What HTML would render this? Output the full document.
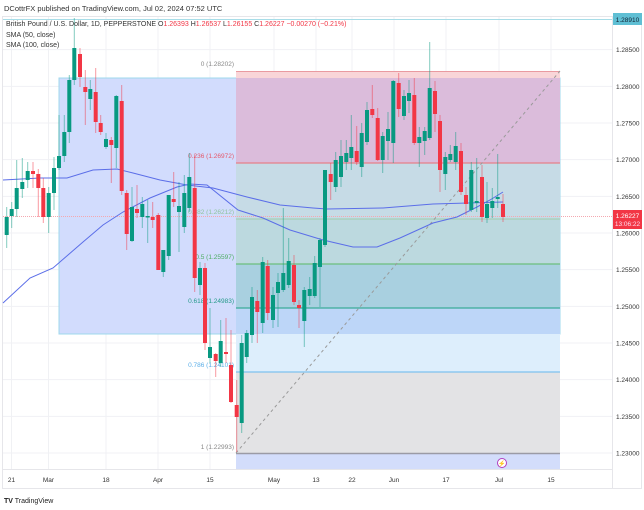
<!DOCTYPE html>
<html><head><meta charset="utf-8"><style>
html,body{margin:0;padding:0;background:#fff;width:644px;height:510px;overflow:hidden}
svg{display:block;font-family:"Liberation Sans",sans-serif}
</style></head><body>
<svg id="s" width="644" height="510" viewBox="0 0 644 510">
<rect width="644" height="510" fill="#fff"/>
<text x="4" y="11" font-size="7.5" fill="#333">DCottrFX published on TradingView.com, Jul 02, 2024 07:52 UTC</text>
<rect x="2.5" y="16.5" width="639" height="472" fill="none" stroke="#e6e6ea"/>
<g id="grid" stroke="#f0f1f4" stroke-width="1"></g>
<!-- big blue rect -->
<rect x="59" y="78" width="501" height="256" fill="#d2dcfd"/>
<rect x="59" y="78" width="501" height="256" fill="none" stroke="#9fd8ec" stroke-width="1"/>
<!-- fib zones -->
<rect x="236" y="71" width="324" height="7" fill="#f9d5d8"/>
<rect x="236" y="78" width="324" height="85" fill="#dbbcdb"/>
<rect x="236" y="163" width="324" height="56" fill="#c6dbe6"/>
<rect x="236" y="219" width="324" height="45" fill="#bcd9df"/>
<rect x="236" y="264" width="324" height="44" fill="#a9d0e0"/>
<rect x="236" y="308" width="324" height="26" fill="#bdd6f8"/>
<rect x="236" y="334" width="324" height="38" fill="#ddeefc"/>
<rect x="236" y="372" width="324" height="81" fill="#e3e3e5"/>
<rect x="236" y="453" width="324" height="16" fill="#d3ddfb"/>
<line x1="236" y1="71.5" x2="560" y2="71.5" stroke="#e99aa0"/>
<line x1="236" y1="163" x2="560" y2="163" stroke="#e57f8a" stroke-width="1.3"/>
<line x1="236" y1="219" x2="560" y2="219" stroke="#a5cfb8" stroke-width="1.3"/>
<line x1="236" y1="264" x2="560" y2="264" stroke="#6cbf7e" stroke-width="1.3"/>
<line x1="236" y1="308" x2="560" y2="308" stroke="#3bab98" stroke-width="1.3"/>
<line x1="236" y1="372" x2="560" y2="372" stroke="#7ec1ee" stroke-width="1.3"/>
<line x1="236" y1="453.5" x2="560" y2="453.5" stroke="#9b9ba5" stroke-width="1.5"/>
<line x1="236" y1="453" x2="560" y2="71" stroke="#9a9a9a" stroke-dasharray="3,3"/>
<line x1="3" y1="19.5" x2="612" y2="19.5" stroke="#a7dde8"/>
<line x1="3" y1="216.5" x2="612" y2="216.5" stroke="#f4a8b0" stroke-dasharray="1,1"/>
<g font-size="6.5" text-anchor="end">
<text x="234" y="66" fill="#888">0 (1.28202)</text>
<text x="234" y="158" fill="#e5586a">0.236 (1.26972)</text>
<text x="234" y="214" fill="#8fc49f">0.382 (1.26212)</text>
<text x="234" y="259" fill="#4ead64">0.5 (1.25597)</text>
<text x="234" y="303" fill="#259a8a">0.618 (1.24983)</text>
<text x="234" y="367" fill="#5aaee8">0.786 (1.24101)</text>
<text x="234" y="449" fill="#888">1 (1.22993)</text>
</g>
<polyline fill="none" stroke="#5b6ee8" stroke-width="1" points="3,180 40,178 67,178 93,170 117,169 133,173 160,180 187,185 213,188 247,197 280,205 313,208 327,209 383,208 433,204 503,202"/>
<polyline fill="none" stroke="#5b6ee8" stroke-width="1" points="3,303 30,278 53,268 83,242 103,225 123,212 150,198 177,187 190,184 207,185 238,210 263,218 290,230 323,240 353,247 377,247 400,238 433,223 457,217 477,207 490,200 503,192"/>
<g id="c"></g>
<line x1="3" y1="469.5" x2="612" y2="469.5" stroke="#e6e6ea"/>
<line x1="612.5" y1="17" x2="612.5" y2="488" stroke="#e6e6ea"/>
<g font-size="7" fill="#333">
<text x="6" y="26">British Pound / U.S. Dollar, 1D, PEPPERSTONE  <tspan>O</tspan><tspan fill="#f23645">1.26393</tspan> H<tspan fill="#f23645">1.26537</tspan> L<tspan fill="#f23645">1.26155</tspan> C<tspan fill="#f23645">1.26227  −0.00270 (−0.21%)</tspan></text>
<text x="6" y="37">SMA (50, close)</text>
<text x="6" y="47">SMA (100, close)</text>
</g>
<g id="ax" font-size="6.5" fill="#333"></g>
<rect x="613" y="13" width="29" height="12" fill="#5fbfd4"/>
<text x="627.5" y="22" font-size="6.5" text-anchor="middle" fill="#123">1.28910</text>
<rect x="613" y="210" width="29" height="19" fill="#f23645"/>
<text x="627.5" y="218" font-size="6.5" text-anchor="middle" fill="#fff">1.26227</text>
<text x="627.5" y="226" font-size="6.5" text-anchor="middle" fill="#fde">13:06:22</text>
<circle cx="502" cy="463" r="4.5" fill="#fff" stroke="#b03fc0" stroke-width="1"/>
<text x="502" y="465.5" font-size="6" text-anchor="middle" fill="#b03fc0">⚡</text>
<g font-size="6.5" fill="#333" text-anchor="middle">
<text x="11.5" y="482">21</text><text x="48.5" y="482">Mar</text><text x="106" y="482">18</text><text x="158" y="482">Apr</text><text x="210" y="482">15</text><text x="274" y="482">May</text><text x="316" y="482">13</text><text x="352" y="482">22</text><text x="394" y="482">Jun</text><text x="446" y="482">17</text><text x="499" y="482">Jul</text><text x="551" y="482">15</text>
</g>
<text x="4" y="503" font-size="7" fill="#222"><tspan font-weight="bold">TV</tspan> TradingView</text>
</svg>
<script>
var NS="http://www.w3.org/2000/svg";
function el(t,a,p){var e=document.createElementNS(NS,t);for(var k in a)e.setAttribute(k,a[k]);p.appendChild(e);return e;}
var g=document.getElementById("grid"),ax=document.getElementById("ax");
for(var i=0;i<12;i++){var p=1.285-i*0.005,y=453-(p-1.23)*7333;
 el("line",{x1:3,x2:612,y1:y,y2:y},g);
 var t=el("text",{x:616,y:y+2.5},ax);t.textContent=p.toFixed(5);}
[11.5,48.5,106,158,210,274,316,352,394,446,499,551].forEach(function(x){el("line",{x1:x,x2:x,y1:17,y2:469},g);});
var d="g 6.7,217,235,207,248;g 11.7,209,216,202,228;g 16.7,188,209,160,217;g 22.3,182,189,158,198;g 27.7,171,180,162,188;r 33,171,174,162,188;r 38.3,174,188,169,217;r 43.3,188,217,178,223;g 48.7,193,217,187,233;g 54,168,193,157,210;g 59,156,168,115,170;g 64.3,132,156,115,162;g 69.3,80,132,75,143;g 74.3,48,80,18,85;r 80,54,77,48,87;r 85.3,87,92,70,125;g 90.3,89,99,80,110;r 95.7,92,122,68,133;r 100.7,123,132,115,135;g 106,139,147,133,149;r 111.3,140,145,137,183;g 116.3,96,148,95,168;r 121.7,101,191,85,195;r 126.7,193,234,190,250;g 132,207,241,187,242;r 137,209,213,185,218;g 142.3,204,217,197,228;g 147.7,216,217,200,243;r 152.7,217,220,202,228;r 158.3,215,270,213,270;g 163.3,250,272,250,277;g 168.7,195,256,195,260;r 173.7,199,202,172,207;g 179,206,212,182,252;g 184.3,193,227,175,233;g 189.3,177,208,153,212;r 194.7,188,278,155,292;g 200,268,285,262,295;r 205,268,343,263,350;g 210,347,358,308,363;r 215.7,354,361,353,377;g 220.7,341,363,320,367;r 226,352,354,318,363;r 231,365,402,330,403;r 236.7,405,417,380,452;g 241.7,343,423,335,433;g 246.7,333,357,330,363;g 252,297,335,287,343;r 257.3,301,312,290,343;g 262.7,262,323,257,333;r 267.7,266,313,260,320;g 273,295,320,287,328;g 278,282,293,273,327;g 283.3,273,290,208,292;g 288.7,261,285,238,288;r 294,265,302,255,305;r 299,305,308,300,328;g 304.3,290,321,287,347;g 309.7,289,296,277,305;g 314.7,263,296,256,298;g 320,240,267,238,307;g 325,170,245,170,247;r 330.7,174,182,163,200;g 335.7,160,187,152,192;g 341,156,177,140,187;g 346.3,153,162,140,170;g 351.3,147,158,115,170;r 356.7,151,162,126,165;g 361.7,133,167,123,177;g 367,110,142,102,145;r 372.3,109,115,85,118;r 377.7,118,160,108,161;g 382.7,136,160,132,173;g 388,129,141,112,160;g 393.3,81,143,80,163;r 398.7,83,109,73,117;g 404,96,116,90,120;g 409,93,101,80,113;r 414.3,95,143,78,145;g 419.3,137,143,127,167;g 424.7,131,141,127,155;g 429.7,88,138,42,140;r 435,91,114,81,132;r 440,121,170,115,192;g 445.3,157,174,152,190;g 450.3,154,160,145,162;g 455.7,146,162,132,170;r 461,151,192,143,195;r 466,195,204,187,215;g 471.3,170,210,162,212;g 476.7,201,203,158,212;r 482,177,217,165,222;g 487,204,218,182,223;g 492.3,201,208,188,218;g 497.7,197,199,154,208;r 503,204,217,194,222";
var c=document.getElementById("c");
d.split(";").forEach(function(s){var col=s[0]=="g"?"#089981":"#f23645";var v=s.slice(2).split(",").map(Number);
 el("line",{x1:v[0],x2:v[0],y1:v[3],y2:v[4],stroke:col,"stroke-opacity":0.5,"stroke-width":1},c);
 el("rect",{x:v[0]-2,y:v[1],width:4,height:Math.max(1.5,v[2]-v[1]),fill:col},c);});
</script>
</body></html>
